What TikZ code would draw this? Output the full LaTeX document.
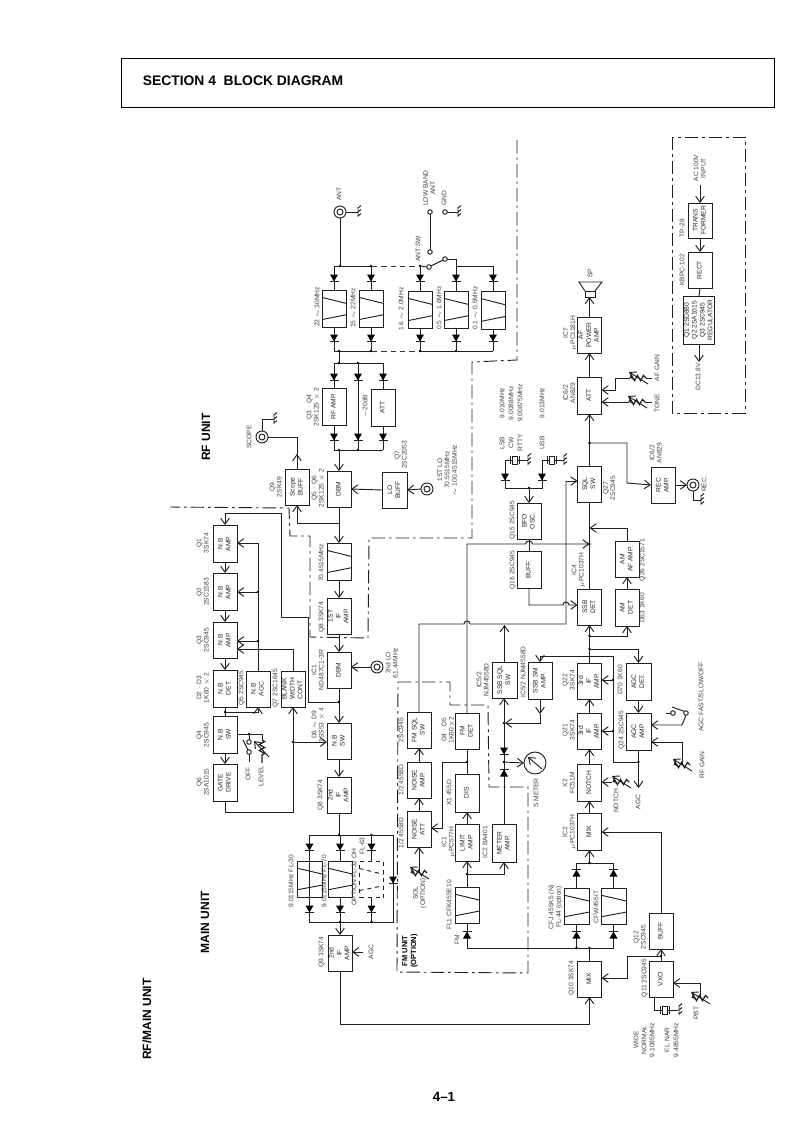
\documentclass[tikz,border=0pt]{standalone}
\usepackage{fontspec}
\usepackage{graphicx}
\setmainfont{Liberation Sans}
\usetikzlibrary{arrows.meta,calc}
\newcounter{labcnt}
\newcommand\blk[6]{\pgfmathsetmacro\cxx{(#2+#4)/2}\pgfmathsetmacro\cyy{(#3+#5)/2}\pgfmathsetmacro\ww{(#4-#2)*.75}\pgfmathsetmacro\hh{(#5-#3)*.75}%
\node[block,minimum width=\ww pt,minimum height=\hh pt] (#1) at (\cxx,\cyy) {\rotatebox{90}{\begin{tabular}{@{}c@{}}#6\end{tabular}}};}
\newcommand\filt[5]{\blk{#1}{#2}{#3}{#4}{#5}{}%
\draw[wire] ($(#1.north west)!.2!(#1.south west)$) -- ($(#1.north east)!.36!(#1.south east)$);
\draw[wire] ($(#1.north west)!.8!(#1.south west)$) -- ($(#1.north east)!.67!(#1.south east)$);}
\newcommand\lab[3]{\stepcounter{labcnt}\node[lbl] (t\thelabcnt) at (#1,#2) {\rotatebox{90}{\begin{tabular}{@{}c@{}}#3\end{tabular}}};}
\newcommand\diodeD[2]{\fill (#1-4,#2-3.5) -- (#1+4,#2-3.5) -- (#1,#2+3.5) -- cycle; \draw[wire] (#1-4.5,#2+3.5) -- (#1+4.5,#2+3.5);}
\newcommand\diodeU[2]{\fill (#1-4,#2+3.5) -- (#1+4,#2+3.5) -- (#1,#2-3.5) -- cycle; \draw[wire] (#1-4.5,#2-3.5) -- (#1+4.5,#2-3.5);}
\newcommand\jd[2]{\fill (#1,#2) circle [radius=1.4];}
\newcommand\gnd[2]{\draw[wire] (#1,#2-5) -- (#1,#2+5) (#1,#2-4) -- (#1+3,#2-6.5) (#1,#2) -- (#1+3,#2-2.5) (#1,#2+4) -- (#1+3,#2+1.5);}
\newcommand\ring[3]{\node[circle,draw,wire,minimum size=9pt,inner sep=0pt,outer sep=0pt] (#1) at (#2,#3) {}; \draw[wire] (#1.center) circle [radius=3];}
\newcommand\term[3]{\node[circle,draw,wire,minimum size=3.4pt,inner sep=0pt,outer sep=0pt] (#1) at (#2,#3) {};}
\newcommand\vres[2]{\draw[wire,line width=.9pt] (#1-8,#2) -- ++(1.5,-2.6) -- ++(3,5.2) -- ++(3,-5.2) -- ++(3,5.2) -- ++(3,-5.2) -- (#1+8,#2);
\draw[arr] (#1+10,#2+6) -- (#1-9,#2-6);}
\newcommand\xtal[2]{\draw[wire] (#1-4.5,#2-4) -- (#1-4.5,#2+4) (#1+4.5,#2-4) -- (#1+4.5,#2+4); \draw[wire,fill=white] (#1-2.5,#2-4) rectangle (#1+2.5,#2+4);}
\begin{document}
\begin{tikzpicture}[x=.75pt,y=-.75pt,
 wire/.style={line width=.7pt,draw=black!88},
 arr/.style={wire,-{Straight Barb[length=4.5pt,width=6.5pt]}},
 block/.style={draw,wire,inner sep=0pt,outer sep=0pt,font=\fontsize{5}{5.9}\selectfont,text=black!85},
 lbl/.style={inner sep=0pt,outer sep=0pt,font=\fontsize{5}{5.6}\selectfont,text=black!75},
 heading/.style={inner sep=0pt,outer sep=0pt,font=\fontsize{9}{10}\selectfont\bfseries,text=black},
 unitline/.style={line width=.7pt,draw=black!88,dash pattern=on 10pt off 3pt on 2pt off 3pt},
 dashwire/.style={line width=.7pt,draw=black!80,dash pattern=on 4pt off 3pt}]
\useasboundingbox (0,0) rectangle (794,1122);
% header
\node[draw,line width=.7pt,minimum width=489.75pt,minimum height=36.75pt,inner sep=0pt] (hdr) at (447.5,82.5) {};
\node[inner sep=0pt,font=\fontsize{10.4}{12}\selectfont\bfseries] (title) at (243,81) {SECTION 4\ \ BLOCK DIAGRAM};
\node[heading,rotate=90] (rfunit) at (206,437) {RF UNIT};
\node[heading,rotate=90] (mainunit) at (205,922) {MAIN UNIT};
\node[heading,rotate=90] (rfmain) at (147,1019) {RF/MAIN UNIT};
\node[inner sep=0pt,font=\fontsize{10}{12}\selectfont\bfseries] (pageno) at (444,1097) {4--1};
% unit boundaries
\draw[unitline] (517,140) -- (517,360) -- (472,362) -- (472,538) -- (369,538) -- (368,638) -- (310,637) -- (310,536) -- (290,536) -- (289,508) -- (170,507);
\draw[unitline] (672,137) rectangle (745,413);
\draw[unitline] (398,682) -- (450,682) -- (450,705) -- (488,705) -- (489,787) -- (528,787) -- (528,973) -- (397,972) -- cycle;
% ======= antenna filters
\ring{antc}{340}{212}
\gnd{358}{212}
\draw[wire] (antc.east) -- (358,212);
\term{lowb}{430}{212}
\term{gndt}{445}{212}
\gnd{458}{212}
\draw[wire] (gndt.east) -- (458,212);
\term{swa}{430}{252}
\term{swb}{429}{267}
\term{swc}{445}{259}
\draw[wire] (lowb.south) -- (swa.north);
\draw[wire] (swb) -- (swc);
\filt{fa}{322}{290}{346}{327}
\filt{fb}{359}{290}{383}{327}
\filt{fc}{408}{291}{432}{328}
\filt{fd}{444}{291}{468}{328}
\filt{fe}{481}{291}{505}{329}
\coordinate (topbus) at (340,266);
\coordinate (botbus) at (339,351);
\draw[wire] (antc.south) -- (topbus);
\draw[wire] (fa.north |- topbus) -- (372,266);
\draw[dashwire] (372,266) -- (420,266);
\draw[wire] (420,266) -- (swb.west);
\draw[wire] (swc.east) -- (456,259) -- (456,266) -- (fe.north |- topbus);
\draw[wire] (fa.north |- botbus) -- (372,351);
\draw[dashwire] (372,351) -- (420,351);
\draw[wire] (420,351) -- (fe.south |- botbus);
\foreach \f in {fa,fb,fc,fd,fe}{\draw[wire] (\f.north |- topbus) -- (\f.north); \draw[wire] (\f.south) -- (\f.south |- botbus);}
\foreach \px in {334,371,420,456,493}{\diodeD{\px}{278}\diodeD{\px}{338}}
\jd{340}{266}\jd{339}{351}\jd{371}{266}\jd{420}{266}\jd{420}{351}\jd{371}{351}\jd{456}{351}
\lab{318}{307}{22 $\sim$ 30MHz}\lab{354}{308}{15 $\sim$ 22MHz}\lab{402}{309}{1.6 $\sim$ 2.0MHz}\lab{440}{308}{0.5 $\sim$ 1.6MHz}\lab{476}{308}{0.1 $\sim$ 0.5MHz}
\lab{340}{194}{ANT}\lab{430}{188}{LOW BAND\\ANT}\lab{445}{198}{GND}\lab{419}{249}{ANT SW}
% ======= RF amp
\blk{rfamp}{322}{388}{346}{425}{RF AMP.}
\blk{attn}{371}{389}{395}{426}{ATT}
\coordinate (bus2t) at (339,363);
\coordinate (bus2b) at (339,450);
\draw[wire] (botbus) -- (bus2t);
\draw[wire] (rfamp.north |- bus2t) -- (attn.north |- bus2t);
\draw[wire] (rfamp.south |- bus2b) -- (attn.south |- bus2b);
\draw[wire] (rfamp.north |- bus2t) -- (rfamp.north) (rfamp.south) -- (rfamp.south |- bus2b);
\draw[wire] (attn.north |- bus2t) -- (attn.north) (attn.south) -- (attn.south |- bus2b);
\draw[wire] (358,363) -- (358,450);
\foreach \px in {334,358,383}{\diodeD{\px}{377}\diodeD{\px}{437}}
\jd{339}{363}\jd{358}{363}\jd{339}{450}\jd{358}{450}
\lab{313.5}{407}{Q3 $\cdot$ Q4\\2SK125 $\times$ 2}\lab{366}{406}{$-$20dB}
% ======= mixer stage
\blk{dbma}{327}{471}{351}{507}{DBM}
\blk{lobuff}{382}{472}{407}{508}{LO\\BUFF}
\blk{scope}{285}{469}{309}{505}{Scope\\BUFF}
\ring{scopec}{262}{437}
\ring{loc}{427}{489}
\gnd{274}{419}
\draw[wire] (scopec.north) -- (262,419) -- (274,419);
\draw[arr] (339,450) -- (dbma.north);
\draw[arr] (lobuff.west) -- (dbma.east);
\draw[arr] (loc.west) -- (lobuff.east);
\draw[wire] (scope.north) -- (297,437) -- (scopec.east);
\draw[arr] (297,469) -- (297,454);
\filt{fif}{327}{543}{351}{580}
\blk{ifa}{327}{598}{351}{634}{1ST\\IF\\AMP.}
\blk{dbmb}{327}{652}{351}{688}{DBM}
\ring{lo2}{377}{667}
\draw[arr] (dbma.south) -- (fif.north);
\draw[arr] (fif.south) -- (ifa.north);
\draw[arr] (ifa.south) -- (dbmb.north);
\draw[arr] (lo2.west) -- (dbmb.east |- lo2.west);
\coordinate (scj) at (339,523);
\draw[arr] (scj) -- (297,523) -- (scope.south);
\lab{401.5}{455}{Q7\\2SC2053}\lab{448}{470}{1ST LO\\70.5515MHz\\$\sim$ 100.4515MHz}\lab{276.5}{487}{Q9\\2SK49}\lab{250}{437}{SCOPE}
\lab{318.5}{488}{Q5 $\cdot$ Q6\\2SK125 $\times$ 2}\lab{322}{563}{70.4515MHz}\lab{322}{617}{Q8 3SK74}\lab{318.5}{670}{IC1\\ND487C1-3R}\lab{392.5}{663}{2nd LO\\61.44MHz}
% ======= noise blanker
\blk{nba}{213}{525}{237}{562}{N.B\\AMP.}
\blk{nbb}{213}{573}{237}{610}{N.B\\AMP.}
\blk{nbc}{213}{622}{237}{658}{N.B\\AMP.}
\blk{nbd}{213}{670}{237}{707}{N.B\\DET}
\blk{nbagc}{246}{671}{270}{707}{N.B\\AGC}
\blk{blank}{281}{671}{305}{707}{BLANK\\WIDTH\\CONT.}
\blk{nbs}{213}{716}{237}{753}{N.B\\SW}
\blk{gate}{213}{764}{237}{801}{GATE\\DRIVE}
\blk{nbsw}{327}{723}{351}{759}{N.B\\SW}
\blk{ifb}{327}{777}{351}{813}{2nd\\IF\\AMP}
\draw[arr] (nba.south) -- (nbb.north);
\draw[arr] (nbb.south) -- (nbc.north);
\draw[arr] (nbc.south) -- (nbd.north);
\draw[wire] (nbd.south) -- (nbs.north);
\draw[arr] (nbs.south) -- (gate.north);
\coordinate (dbj) at (339,702);
\draw[wire] (dbmb.south) -- (dbj);
\draw[arr] (dbj) -- (nbsw.north);
\draw[arr] (dbj) -- (308,702) -- (308,617) -- (281,617) -- (281,513) -- (225,513) -- (nba.north);
\draw[arr] (nbagc.north) -- (258,543) -- (nba.east |- 0,543);
\draw[arr] (258,592) -- (nbb.east |- 0,592);
\draw[arr] (258,641) -- (nbc.east |- 0,641);
\draw[arr] (blank.north) -- (293,649) -- (nbc.east |- 0,649);
\draw[arr] (225,712) -- (258,712) -- (nbagc.south);
\draw[arr] (gate.south) -- (225,812) -- (293,812) -- (blank.south);
\draw[arr] (293,742) -- (nbsw.west |- 0,742);
\draw[arr] (nbsw.south) -- (ifb.north);
\jd{258}{592}\jd{258}{641}\jd{225}{712}\jd{293}{742}\jd{339}{702}
\term{ofa}{249}{742}
\term{ofb}{249}{752}
\draw[wire] (nbs.east |- 0,734) -- (262,734) -- (262,740);
\draw[wire] (249,734) -- (249,740);
\draw[wire] (ofb) -- (243,740);
\draw[wire] (ofb.south) -- (249,762);
\draw[wire,line width=.9pt] (262,740) -- ++(2.6,1.5) -- ++(-5.2,3) -- ++(5.2,3) -- ++(-5.2,3) -- ++(5.2,3) -- (262,755) -- (262,763);
\draw[arr] (269,757) -- (254,741);
\jd{249}{734}
\lab{203.5}{543}{Q1\\3SK74}\lab{203.5}{592}{Q2\\2SC1583}\lab{203.5}{640}{Q3\\2SC945}\lab{203.5}{688}{D2 $\cdot$ D3\\1K60 $\times$ 2}\lab{242}{688}{Q5 2SC945}\lab{276}{688}{Q7 2SC1645}
\lab{203.5}{735}{Q4\\2SC945}\lab{203.5}{782}{Q6\\2SA1015}\lab{249}{774}{OFF}\lab{262}{776}{LEVEL}\lab{318.5}{725}{D6 $\sim$ D9\\1SS53 $\times$ 4}\lab{321}{795}{Q8 3SK74}
% ======= crystal filters
\filt{fl30}{297}{861}{322}{897}
\filt{fl70}{328}{861}{352}{897}
\node[draw,dashed,wire,minimum width=18pt,minimum height=27.5pt,inner sep=0pt,outer sep=0pt] (flopt) at (371.5,879.5) {};
\draw[dashed,wire] ($(flopt.north west)!.8!(flopt.south west)$) -- ($(flopt.north east)!.67!(flopt.south east)$);
\draw[dashed,wire] ($(flopt.north west)!.2!(flopt.south west)$) -- ($(flopt.north east)!.36!(flopt.south east)$);
\coordinate (busf) at (339,835);
\coordinate (busg) at (340,922);
\draw[wire] (ifb.south) -- (busf);
\draw[wire] (fl30.north |- busf) -- (393,835) -- (393,922) -- (fl30.south |- busg) -- cycle;
\draw[wire] (fl30.north |- busf) -- (fl30.north) (fl30.south) -- (fl30.south |- busg);
\draw[wire] (fl70.north |- busf) -- (fl70.north) (fl70.south) -- (fl70.south |- busg);
\draw[wire] (flopt.north |- busf) -- (flopt.north) (flopt.south) -- (flopt.south |- busg);
\foreach \px in {309.5,340,371.5}{\diodeD{\px}{847}\diodeD{\px}{909}}
\diodeD{393}{880}
\jd{339}{835}\jd{371.5}{835}\jd{340}{922}\jd{371.5}{922}
\blk{ifq9}{328}{935}{352}{971}{2nd\\IF\\AMP}
\draw[arr] (busg) -- (ifq9.north);
\coordinate (agcin) at (363,952);
\draw[arr] (agcin) -- (ifq9.east |- agcin);
\lab{292}{881}{9.0115MHz FL-30}\lab{325}{881}{9.0115MHz FL-70}\lab{355}{877}{OPTION FL-32 OH}\lab{363}{846}{FL-63}\lab{322}{952}{Q9 3SK74}\lab{372}{952}{AGC}
\node[rotate=90,inner sep=0pt,font=\fontsize{5.6}{6.6}\selectfont\bfseries,align=center] (fmunit) at (410,951) {FM UNIT\\(OPTION)};
% ======= 2nd mixer and 455 filters
\blk{mixa}{577.5}{961}{601.5}{997}{MIX}
\filt{cfa}{564}{888}{589}{924}
\filt{cfb}{601}{888}{626}{924}
\filt{ffm}{455}{887}{479}{923}
\blk{mixb}{577.5}{813}{601.5}{850}{MIX}
\blk{notch}{577.5}{764}{601.5}{801}{NOTCH}
\blk{if3a}{577.5}{713}{601.5}{749}{3rd\\IF\\AMP.}
\blk{if3b}{577.5}{663}{601.5}{699}{3rd\\IF\\AMP.}
\blk{vbuff}{649}{913}{673}{949}{BUFF}
\blk{vxo}{649}{961}{673}{997}{VXO}
\draw[arr] (ifq9.south) -- (340,1024) -- (589.5,1024) -- (mixa.south);
\coordinate (busm) at (589.5,948);
\coordinate (busn) at (589.5,863);
\draw[wire] (mixa.north) -- (busm);
\draw[wire] (467,948) -- (cfb.south |- busm);
\draw[wire] (467,948) -- (ffm.south);
\draw[wire] (cfa.south |- busm) -- (cfa.south);
\draw[wire] (cfb.south |- busm) -- (cfb.south);
\draw[wire] (cfa.north) -- (cfa.north |- busn) -- (cfb.north |- busn) -- (cfb.north);
\diodeU{467}{935}\diodeU{576.5}{935}\diodeU{613.5}{935}\diodeU{576.5}{873}\diodeU{613.5}{873}
\draw[arr] (busn) -- (mixb.south);
\draw[arr] (mixb.north) -- (notch.south);
\draw[arr] (notch.north) -- (if3a.south);
\draw[arr] (if3a.north) -- (if3b.south);
\jd{589.5}{863}\jd{589.5}{948}\jd{576.5}{948}
\coordinate (vj) at (661,956);
\draw[arr] (vxo.north) -- (vbuff.south);
\draw[arr] (vj) -- (627,956) -- (627,978) -- (mixa.east |- 0,978);
\draw[arr] (vbuff.north) -- (661,832) -- (mixb.east |- 0,832);
\jd{661}{956}
\coordinate (xa) at (654,1010);
\draw[wire] (vxo.south -| xa) -- (xa) -- (678,1010);
\xtal{665}{1010}
\gnd{679}{1010}
\vres{700}{998}
\draw[wire] (700,998) -- (700,983);
\draw[arr] (700,983) -- (vxo.east |- 0,983);
\lab{552}{907}{CFJ 455K5 (N)\\}\lab{559.5}{907}{FL-44 (option)}\lab{597}{907}{CFW455IT}\lab{572}{978}{Q10 3SK74}\lab{640.5}{937}{Q12\\2SC945}\lab{645}{978}{Q11 2SC945}
\lab{637}{1040}{WIDE}\lab{645}{1040}{NORMAL}\lab{653}{1040}{9.1085MHz}\lab{668}{1040}{F.L NAR}\lab{677}{1040}{9.4855MHz}\lab{697}{1013}{PBT}
\lab{569.5}{730}{Q21\\3SK74}\lab{569.5}{680}{Q22\\3SK74}\lab{569.5}{783}{X2\\FC51M}\lab{569.5}{832}{IC2\\$\mu$PC1037H}
% ======= notch / agc
\blk{agcdet}{626}{663}{651}{700}{AGC\\DET.}
\blk{agcamp}{626}{713}{651}{750}{AGC\\AMP}
\vres{621}{782}
\draw[arr] (612,782) -- (notch.east |- 0,782);
\coordinate (agcj) at (638.5,762);
\draw[arr] (agcamp.south) -- (638.5,788);
\draw[wire] (agcj) -- (613,762) -- (613,656);
\draw[arr] (613,731) -- (if3a.east |- 0,731);
\draw[arr] (613,680) -- (if3b.east |- 0,680);
\draw[arr] (agcdet.south) -- (agcamp.north);
\jd{638.5}{762}\jd{613}{731}\jd{613}{680}
\term{agsa}{673}{713}
\term{agsb}{686}{713}
\draw[wire] (666,713) -- (agsa.west);
\draw[wire] (672,707) -- (agsb.north west);
\draw[arr] (agsb.south) -- (682,725) -- (agcamp.east |- 0,725);
\vres{682}{765}
\draw[arr] (682,765) -- (682,742) -- (agcamp.east |- 0,742);
\lab{639}{802}{AGC}\lab{617}{801}{NOTCH}\lab{703}{765}{RF GAIN}\lab{702}{697}{AGC FAST/SLOW/OFF}\lab{622}{730}{Q24 2SC945}\lab{621}{680}{D70 1K60}
% ======= detector / audio
\blk{ssbdet}{577.5}{589}{601.5}{625}{SSB\\DET}
\blk{sqlsw}{577.5}{466}{601.5}{502}{SQL\\SW}
\blk{amdet}{615}{589}{639}{626}{AM\\DET}
\blk{amaf}{615}{541}{639}{577}{AM\\AF AMP.}
\blk{recamp}{651}{467}{675}{503}{REC\\AMP.}
\blk{attb}{577.5}{377}{601.5}{414}{ATT}
\blk{afpa}{577.5}{317}{601.5}{353}{AF\\POWER\\AMP}
\draw[wire] (ssbdet.north) -- (sqlsw.south);
\draw[arr] (if3b.north) -- (ssbdet.south);
\draw[arr] (589.5,636) -- (627,636) -- (amdet.south);
\draw[arr] (589.5,649) -- (638.5,649) -- (638.5,663);
\jd{589.5}{636}\jd{589.5}{649}
\draw[arr] (613,656) -- (540,656) -- (540,662);
\draw[arr] (amdet.north) -- (amaf.south);
\draw[arr] (amaf.north) -- (627,528) -- (589.5,528);
\draw[arr] (sqlsw.north) -- (attb.south);
\draw[arr] (589.5,443) -- (627,443) -- (627,483) -- (recamp.west);
\jd{589.5}{443}
\draw[arr] (attb.north) -- (afpa.south);
\ring{recc}{693}{485}
\draw[arr] (recamp.east) -- (recc.west);
\draw[wire] (recc.south) -- (693,500) -- (701,500);
\gnd{701}{500}
\draw[wire] (585,297) rectangle (595,291);
\draw[wire] (585,291) -- (579,282) -- (602,282) -- (595,291);
\coordinate (spk) at (589.5,297);
\draw[arr] (afpa.north) -- (spk);
\vres{638}{378}
\draw[wire] (652,378) -- (646,378) (630,378) -- (615,378);
\draw[arr] (615,378) -- (615,390) -- (attb.east |- 0,390);
\vres{637}{402}
\draw[wire] (652,402) -- (645,402);
\draw[arr] (629,402) -- (attb.east |- 0,402);
\lab{591}{273}{SP}\lab{570}{333}{IC7\\$\mu$PC1181H}\lab{570}{393}{IC6/2\\AN829}\lab{658}{368}{AF GAIN}\lab{658}{403}{TONE}
\lab{610}{488}{Q27\\2SC945}\lab{578.5}{570}{IC4\\$\mu$PC1037H}\lab{643}{560}{Q26 2SC1571}\lab{643}{608}{D63 1K60}\lab{656.5}{453}{IC6/2\\AN829}\lab{705}{484}{REC.}
% ======= BFO
\blk{bfo}{517}{503}{541}{539}{BFO\\OSC.}
\blk{bbuff}{517}{551}{541}{588}{BUFF.}
\coordinate (bfoj) at (529,488);
\draw[wire] (505,460) -- (505,488) -- (542,488) -- (542,460);
\draw[arr] (bfoj) -- (bfo.north);
\diodeD{505}{477}\diodeD{542}{477}
\draw[wire] (505,460) -- (528,460) (542,460) -- (564,460);
\xtal{515}{460}\xtal{552}{460}
\gnd{528}{460}\gnd{564}{460}
\draw[wire] (bfo.south) -- (bbuff.north);
\jd{529}{488}
\draw[arr] (bbuff.south) -- (529,605) -- (563,605) .. controls (563,601) and (569,601) .. (569,605) -- (ssbdet.west |- 0,605);
% squelch and meter lines
\blk{ssbsql}{492}{662}{517}{698}{SSB SQL\\SW}
\blk{ssbsm}{528}{662}{552}{699}{SSB SM\\AMP.}
\blk{fmsql}{407}{712}{431}{748}{FM SQL\\SW}
\blk{noisea}{407}{762}{431}{798}{NOISE\\AMP.}
\blk{noiseb}{407}{811}{431}{847}{NOISE\\ATT}
\blk{fmdet}{455}{713}{479}{749}{FM\\DET}
\blk{dis}{455}{774}{479}{812}{DIS}
\blk{limit}{455}{824}{479}{861}{LIMIT\\AMP}
\blk{meter}{492}{824}{516}{862}{METER\\AMP.}
\draw[arr] (ffm.north) -- (limit.south);
\coordinate (lj) at (467,874);
\draw[arr] (lj) -- (504,874) -- (meter.south);
\jd{467}{874}
\draw[arr] (limit.north) -- (dis.south);
\draw[wire] (dis.north) -- (fmdet.south);
\coordinate (dj) at (467,762);
\draw[arr] (dj) -- (442,762) -- (442,828) -- (noiseb.east |- 0,828);
\jd{467}{762}
\draw[arr] (noiseb.north) -- (noisea.south);
\draw[arr] (noisea.north) -- (fmsql.south);
\vres{419}{873}
\draw[arr] (419,873) -- (noiseb.south);
\draw[wire] (fmsql.north) -- (419,624) -- (464,624) .. controls (464,620) and (470,620) .. (470,624) -- (566,624) -- (566,481);
\draw[arr] (566,481) -- (sqlsw.west |- 0,481);
\draw[arr] (ssbsql.north) -- (504.5,625);
\draw[arr] (fmdet.north) -- (467,544) -- (525.5,544) .. controls (525.5,540) and (532.5,540) .. (532.5,544) -- (589.5,544);
\jd{589.5}{544}
% meter
\node[circle,draw,wire,minimum size=16.5pt,inner sep=0pt,outer sep=0pt] (smeter) at (535,763) {};
\draw[arr] (542,769) -- (528,757);
\coordinate (mj) at (504,762);
\draw[arr] (mj) -- (smeter.west);
\draw[wire] (meter.north) -- (504,723);
\draw[arr] (504,723) -- (504,698);
\draw[arr] (ssbsm.south) -- (540,714);
\draw[arr] (540,714) -- (540,723) -- (505,723);
\diodeD{504}{751}\diodeU{504}{773}
\jd{504}{762}\jd{504}{723}
\lab{402}{833}{1/2 4558D}\lab{402}{780}{1/2 4558D}\lab{402}{730}{2SC945}\lab{448.5}{730}{D4 $\cdot$ D5\\1K60$\times$2}\lab{450}{793}{X1 455D}\lab{448.5}{842}{IC1\\$\mu$PC577H}\lab{486}{842}{IC2 BA401}
\lab{537}{793}{S METER}\lab{420}{893}{SOL\\(OPTION)}\lab{450}{905}{FL1 CFK455E10}\lab{458}{940}{FM}
\lab{483.5}{680}{IC5/2\\NJM4558D}\lab{524}{672}{IC5/2 NJM4558D}\lab{513}{570}{Q16 2SC945}\lab{513}{520}{Q15 2SC945}
\lab{503}{443}{LSB}\lab{512}{443}{CW}\lab{521}{443}{RTTY}\lab{543}{443}{USB}
\lab{503}{403}{9.010MHz}\lab{512}{403}{9.0088MHz}\lab{521}{403}{9.00875MHz}\lab{543}{403}{9.013MHz}
% ======= power supply
\blk{trans}{688}{203}{712}{238}{TRANS\\FORMER}
\blk{rect}{688}{252}{712}{288}{RECT}
\blk{reg}{684}{296}{714}{344}{Q1 2SD880\\Q2 2SA1015\\Q3 2SC945\\REGULATOR}
\coordinate (acin) at (700,185);
\coordinate (dcout) at (699,362);
\draw[arr] (acin) -- (trans.north);
\draw[arr] (trans.south) -- (rect.north);
\draw[wire] (rect.south) -- (reg.north);
\draw[arr] (reg.south) -- (dcout);
\lab{700.5}{168}{AC 100V\\INPUT}\lab{683}{228}{TP-28}\lab{683}{270}{KBPC-102}\lab{699}{377}{DC13.8V}
\end{tikzpicture}
\end{document}
